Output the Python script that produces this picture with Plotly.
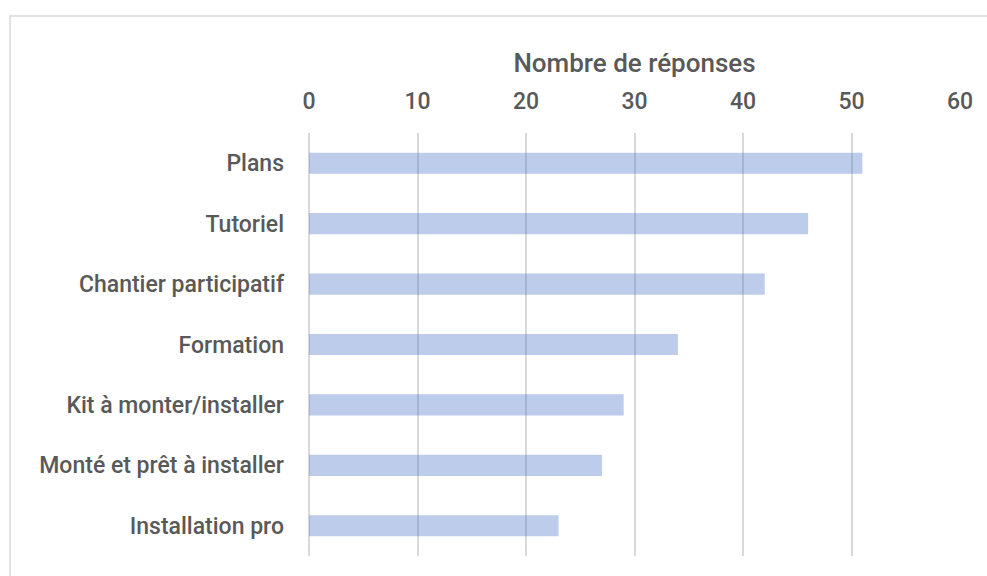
import plotly.graph_objects as go

categories = [
    "Plans",
    "Tutoriel",
    "Chantier participatif",
    "Formation",
    "Kit à monter/installer",
    "Monté et prêt à installer",
    "Installation pro",
]
responses = [51, 46, 42, 34, 29, 27, 23]
x_ticks = [0, 10, 20, 30, 40, 50, 60]

W, H = 987, 576
margin = dict(l=309, r=27, t=133, b=20)
text_color = "#595959"
font_family = "Roboto, 'Open Sans', sans-serif"

fig = go.Figure(
    go.Bar(
        x=responses,
        y=categories,
        orientation="h",
        width=0.35,
        marker=dict(color="rgba(68,114,196,0.36)", line=dict(width=0)),
        hoverinfo="x+y",
    )
)

fig.update_layout(
    width=W,
    height=H,
    margin=margin,
    plot_bgcolor="white",
    paper_bgcolor="white",
    font=dict(family=font_family, size=23, color=text_color, weight=500),
    showlegend=False,
)

fig.update_xaxes(
    side="top",
    range=[0, 60],
    tickvals=x_ticks,
    showgrid=True,
    gridcolor="#d9d9d9",
    gridwidth=1.5,
    zeroline=True,
    zerolinecolor="#d9d9d9",
    zerolinewidth=1.5,
    showline=False,
    ticks="",
    ticklabelstandoff=18,
    tickfont=dict(size=23, color=text_color, weight=500),
    title=dict(
        text="Nombre de réponses",
        font=dict(size=26, color=text_color, weight=500),
        standoff=8,
    ),
)
fig.update_yaxes(
    categoryorder="array",
    categoryarray=categories[::-1],
    range=[-0.5, len(categories) - 0.5],
    showgrid=False,
    showline=False,
    ticks="",
    ticklabelstandoff=24,
    tickfont=dict(size=23, color=text_color, weight=500),
)

# thin gray frame around the chart (right and bottom edges fall off the canvas)
pw = W - margin["l"] - margin["r"]
ph = H - margin["t"] - margin["b"]
fig.add_shape(
    type="rect",
    xref="paper",
    yref="paper",
    x0=(10 - margin["l"]) / pw,
    x1=(W + 5 - margin["l"]) / pw,
    y0=(H - margin["b"] - (H + 5)) / ph,
    y1=(H - margin["b"] - 16) / ph,
    line=dict(color="#d9d9d9", width=1.5),
    fillcolor="rgba(0,0,0,0)",
    layer="below",
)

# drop the default 8px body margin so the figure fills the window
fig.write_html(
    "out.html",
    config={"displayModeBar": False},
    post_script="document.body.style.margin='0';",
)
